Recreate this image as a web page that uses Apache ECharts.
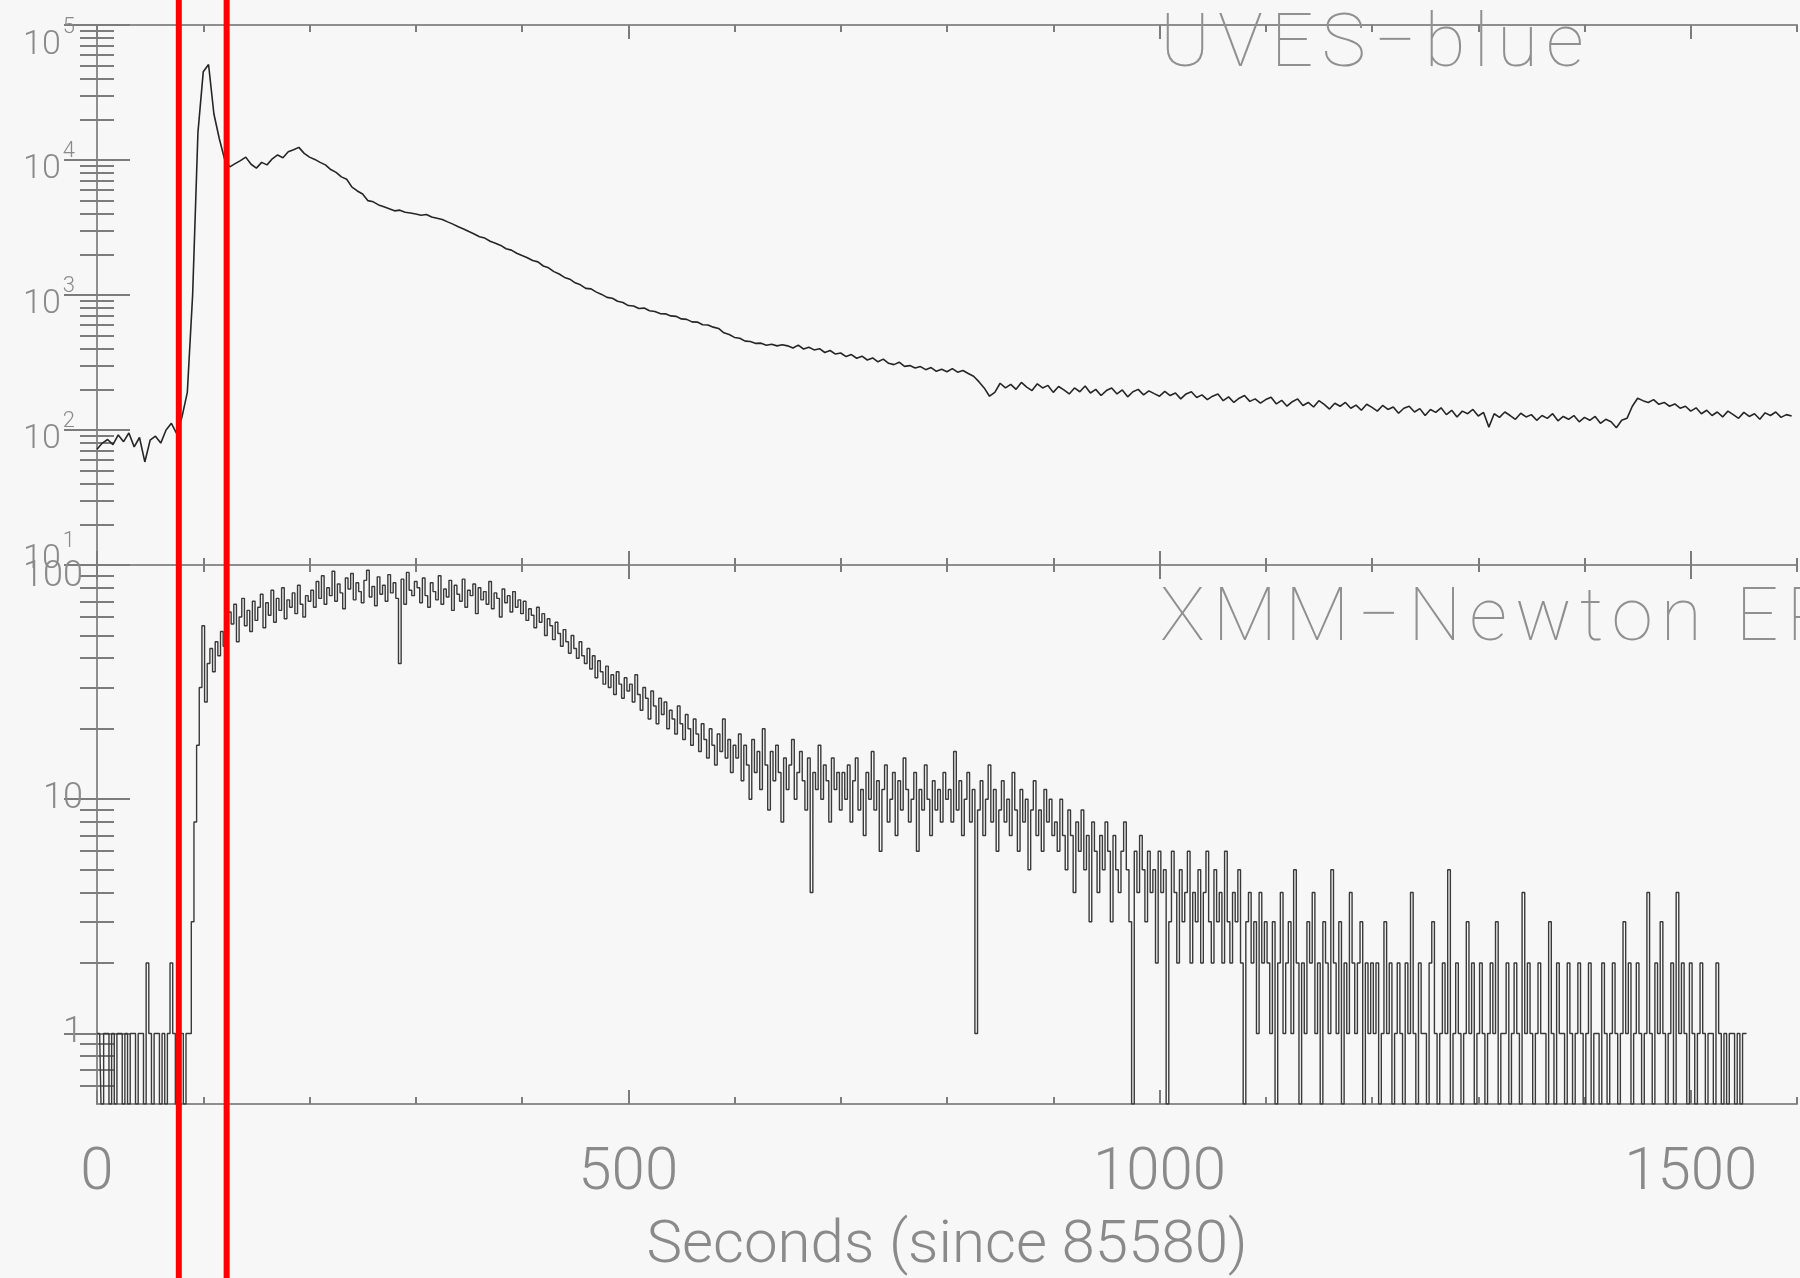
<!DOCTYPE html>
<html>
<head>
<meta charset="utf-8">
<script src="https://cdn.jsdelivr.net/npm/echarts/dist/echarts.min.js"></script>
<style>
  html, body { margin: 0; padding: 0; background: #f7f7f7; }
  #chart { width: 1800px; height: 1278px; }
</style>
</head>
<body>
<div id="chart"></div>
<script>
// ---- Light curves of the flare (time in seconds since 85580) ----

// UVES-blue count rate, 5 s bins starting at t = 0
const uvesBinSec = 5;
const uvesCounts = [
  72, 80, 85, 78, 92, 82, 95, 75, 88, 58,
  84, 90, 80, 100, 112, 94, 125, 190, 1000, 16000,
  45000, 51000, 22000, 14500, 10200,
  8900, 9400, 9900, 10500, 9300, 8700, 9600, 9200, 10200, 10900,
  10400, 11500, 11900, 12400, 11200, 10500, 10100, 9600, 9200, 8500,
  8100, 7500, 7200, 6300, 5900, 5600, 5000, 4900, 4650, 4500,
  4350, 4200, 4250, 4100, 4050, 3980, 3900, 3950, 3780, 3700,
  3620, 3480, 3350, 3200, 3080, 2950, 2830, 2700, 2640, 2500,
  2420, 2330, 2200, 2150, 2040, 1960, 1890, 1800, 1760, 1640,
  1590, 1490, 1430, 1350, 1310, 1230, 1190, 1120, 1110, 1050,
  1010, 960, 945, 900, 880, 835, 828, 795, 800, 765,
  755, 728, 725, 700, 695, 665, 660, 632, 630, 602,
  600, 578, 565, 525, 510, 485, 478, 455, 452, 438,
  440, 425, 432, 420, 428,
  420, 405, 425, 398, 410, 392, 400, 375, 388, 365,
  372, 350, 362, 340, 352, 330, 342, 320, 335, 312,
  305, 318, 296, 300, 288, 295, 280, 290, 272, 282,
  270, 285, 268, 276, 262, 250, 228, 205, 178, 190,
  222, 205, 218, 200, 225, 208, 196, 220, 205, 214,
  190, 210, 198, 185, 205, 192, 212, 188, 200, 180,
  196, 205, 185, 198, 176, 192, 200, 182, 195, 186,
  178, 193, 180, 188, 170, 185, 192, 174, 182, 168,
  178, 185, 165, 176, 160, 172, 180, 163, 170, 158,
  168, 175, 156, 166, 150, 162, 170, 152, 160, 148,
  165, 155, 143, 158, 150, 160, 145, 153, 140, 155,
  147, 138, 152, 142, 148, 133, 145, 150, 136, 144,
  128, 142, 135, 146, 130, 140, 125, 138, 132, 142,
  127, 135, 105, 132, 124, 136, 128, 120, 133, 125,
  130, 118, 128, 122, 132, 117, 126, 120, 128, 115,
  124, 118, 126, 112, 120, 115, 104, 118, 122, 150,
  172, 165, 160, 168, 155, 160, 150, 156, 145, 150,
  138, 146, 132, 140, 128, 136, 125, 138, 130, 122,
  135, 126, 132, 120, 134, 128, 136, 124, 130, 127
];

// XMM-Newton EPIC counts, 2.5 s bins starting at t = 0 (empty bins are 0)
const epicBinSec = 2.5;
const epicCounts = [
  // quiescence, 0 - 87.5 s
  1, 1, 0, 1, 1, 0, 1, 0, 1, 1,
  0, 1, 0, 1, 1, 0, 1, 1, 0, 2,
  1, 0, 1, 1, 0, 1, 0, 1, 2, 1,
  0, 1, 1, 0, 1, 1,
  // flare onset, 90 - 120 s
  3, 8, 17, 30, 55, 26, 38, 44, 35, 47,
  41, 52, 45,
  // 122.5 - 200 s
  50, 63, 56, 68, 47, 60, 72, 55, 64, 52,
  70, 58, 66, 75, 54, 69, 61, 78, 57, 72,
  64, 80, 59, 71, 66, 76, 62, 82, 68, 60,
  74, 70,
  // 202.5 - 300 s
  78, 66, 85, 72, 90, 68, 80, 74, 94, 70,
  83, 76, 65, 88, 79, 92, 71, 84, 77, 69,
  86, 95, 73, 81, 67, 89, 75, 82, 70, 91,
  76, 84, 72, 38, 87, 68, 93, 78, 74, 85,
  // 302.5 - 400 s
  80, 69, 88, 74, 66, 84, 77, 71, 90, 68,
  79, 73, 86, 64, 82, 75, 70, 87, 66, 78,
  74, 83, 62, 80, 71, 77, 68, 85, 65, 76,
  72, 60, 79, 69, 74, 63, 77, 66, 71, 62,
  // 402.5 - 500 s
  70, 58, 65, 61, 54, 66, 57, 62, 50, 59,
  55, 48, 57, 51, 45, 53, 47, 42, 50, 44,
  40, 47, 41, 38, 44, 36, 41, 33, 39, 35,
  31, 37, 30, 34, 28, 35, 31, 27, 33, 29,
  // 502.5 - 600 s
  31, 26, 34, 28, 24, 30, 27, 22, 29, 25,
  21, 27, 23, 26, 20, 24, 22, 19, 25, 21,
  18, 23, 20, 17, 22, 19, 16, 21, 18, 15,
  20, 17, 14, 19, 16, 22, 15, 18, 13, 17,
  // 602.5 - 700 s
  15, 19, 12, 17, 14, 10, 18, 13, 16, 11,
  20, 14, 9, 16, 12, 17, 13, 8, 15, 11,
  14, 18, 10, 13, 16, 12, 9, 15, 4, 13,
  11, 17, 10, 14, 12, 8, 15, 11, 13, 9,
  // 702.5 - 800 s
  13, 10, 14, 8, 12, 15, 9, 11, 7, 13,
  10, 16, 9, 12, 6, 11, 14, 8, 10, 13,
  7, 12, 9, 15, 11, 8, 10, 13, 6, 11,
  9, 14, 10, 7, 12, 9, 11, 8, 13, 10,
  // 802.5 - 900 s
  11, 8, 16, 9, 12, 7, 10, 13, 8, 11,
  1, 9, 12, 7, 10, 14, 8, 11, 6, 9,
  12, 8, 10, 7, 13, 9, 6, 11, 8, 10,
  5, 9, 12, 7, 9, 6, 11, 8, 10, 7,
  // 902.5 - 1000 s
  8, 6, 10, 7, 5, 9, 7, 4, 8, 6,
  9, 5, 7, 3, 8, 6, 4, 7, 5, 8,
  6, 3, 7, 5, 4, 6, 8, 5, 3, 0,
  6, 4, 7, 5, 3, 6, 4, 5, 2, 6,
  // 1002.5 - 1100 s
  4, 5, 0, 3, 6, 4, 2, 5, 3, 4,
  6, 2, 4, 3, 5, 2, 4, 6, 3, 2,
  5, 3, 4, 2, 6, 3, 2, 4, 3, 5,
  2, 0, 3, 4, 2, 3, 1, 4, 2, 3,
  // 1102.5 - 1200 s
  2, 1, 3, 0, 2, 4, 1, 2, 3, 1,
  5, 2, 0, 2, 1, 3, 2, 4, 1, 2,
  0, 3, 2, 1, 5, 2, 1, 3, 0, 2,
  1, 4, 2, 1, 2, 3, 0, 2, 1, 2,
  // 1202.5 - 1300 s
  1, 2, 0, 1, 3, 1, 2, 0, 1, 2,
  1, 0, 2, 1, 4, 1, 0, 2, 1, 1,
  0, 2, 3, 1, 0, 1, 2, 1, 5, 0,
  1, 2, 1, 0, 1, 3, 1, 2, 0, 1,
  // 1302.5 - 1400 s
  2, 1, 0, 1, 2, 1, 3, 0, 1, 1,
  2, 0, 1, 2, 1, 0, 4, 1, 2, 1,
  0, 1, 2, 1, 1, 0, 3, 1, 0, 2,
  1, 1, 0, 2, 1, 0, 1, 2, 1, 0,
  // 1402.5 - 1500 s
  1, 2, 0, 1, 1, 0, 2, 1, 0, 1,
  2, 1, 0, 1, 3, 1, 2, 0, 1, 2,
  1, 0, 1, 4, 1, 0, 2, 1, 3, 1,
  0, 1, 2, 0, 4, 1, 2, 1, 0, 2,
  // 1502.5 - 1552.5 s
  1, 0, 1, 2, 1, 0, 1, 1, 0, 2,
  1, 0, 1, 0, 1, 1, 0, 1, 0, 1,
  1
];

// Flare window boundaries (s)
const flareMarkSec = [77, 122];

// Axis ranges and tick values
const X_MIN = 0, X_MAX = 1600;
const xMajorTicks = [0, 500, 1000, 1500];
const xMinorTicks = [100, 200, 300, 400, 600, 700, 800, 900, 1100, 1200, 1300, 1400, 1600];
const UVES_MIN = 10, UVES_MAX = 100000;
const uvesDecades = [10, 100, 1000, 10000, 100000];
const EPIC_MIN = 0.5, EPIC_MAX = 100;
const epicDecades = [1, 10, 100];
const epicMinorBelowOne = [0.6, 0.7, 0.8, 0.9];

const panelTitles = ['UVES\u2212blue', 'XMM\u2212Newton EP'];
const xAxisTitle = 'Seconds (since 85580)';

// ---- helpers ----
function minorLogTicks(decades) {
  const out = [];
  decades.forEach(d => { for (let m = 2; m <= 9; m++) out.push(+(d * m).toPrecision(6)); });
  return out;
}
const uvesMinor = minorLogTicks(uvesDecades.slice(0, -1));
const epicMinor = epicMinorBelowOne.concat(minorLogTicks(epicDecades.slice(0, -1)));

const uvesData = uvesCounts.map((v, i) => [i * uvesBinSec, v]);
const epicData = epicCounts.map((v, i) => [i * epicBinSec, Math.max(v, EPIC_MIN)]);

const BG = '#f7f7f7';
const AXIS_GREY = '#8e8e8e';
const TICK_GREY = '#7c7c7c';
const TEXT_GREY = '#8a8a8a';
const FONT = 'Roboto';

const axisLine = { show: true, lineStyle: { color: AXIS_GREY, width: 2 } };
const noLine = { show: false };

function xAxisDef(grid, position, ticks, len, withLabels) {
  const ax = {
    type: 'value', gridIndex: grid, position: position,
    min: X_MIN, max: X_MAX,
    axisLine: len < 10 ? axisLine : noLine,
    axisTick: { show: true, inside: true, length: len, customValues: ticks,
                lineStyle: { color: TICK_GREY, width: 2 } },
    axisLabel: { show: false },
    splitLine: { show: false }
  };
  if (withLabels) {
    ax.axisLabel = {
      show: true, customValues: xMajorTicks, margin: 40,
      formatter: v => String(v),
      fontFamily: FONT, fontWeight: 300, fontSize: 60, color: TEXT_GREY
    };
    ax.name = xAxisTitle;
    ax.nameLocation = 'middle';
    ax.nameGap = 113;
    ax.nameTextStyle = { fontFamily: FONT, fontWeight: 300, fontSize: 60, color: TEXT_GREY };
  }
  return ax;
}

const xAxes = [];
[0, 1].forEach(g => {
  ['bottom', 'top'].forEach(pos => {
    xAxes.push(xAxisDef(g, pos, xMinorTicks, 7, false));
    xAxes.push(xAxisDef(g, pos, xMajorTicks, 14, g === 1 && pos === 'bottom'));
  });
});

const supRich = {
  b: { fontFamily: FONT, fontWeight: 300, fontSize: 34, lineHeight: 46, verticalAlign: 'bottom', color: TEXT_GREY },
  s: { fontFamily: FONT, fontWeight: 300, fontSize: 22, lineHeight: 22, verticalAlign: 'top', color: TEXT_GREY, padding: [0, 0, 0, 2] },
  g22: { lineHeight: 22, fontSize: 10 },
  g30: { lineHeight: 30, fontSize: 10 },
  n: { fontFamily: FONT, fontWeight: 300, fontSize: 36, lineHeight: 36, color: TEXT_GREY },
  g24: { lineHeight: 24, fontSize: 10 }
};

function uvesLabel(v) {
  const body = '{b|10}{s|' + Math.round(Math.log10(v)) + '}';
  if (v >= UVES_MAX) return '{g22| }\n' + body;
  if (v <= UVES_MIN) return body + '\n{g30| }';
  return body;
}
function epicLabel(v) {
  const body = '{n|' + v + '}';
  if (v >= EPIC_MAX) return '{g24| }\n' + body;
  return body;
}

function yAxisDef(grid, position, min, max, ticks, len, label) {
  return {
    type: 'log', logBase: 10, gridIndex: grid, position: position,
    min: min, max: max,
    axisLine: len > 20 ? axisLine : noLine,
    axisTick: { show: true, inside: true, length: len, customValues: ticks,
                lineStyle: { color: TICK_GREY, width: 2 } },
    axisLabel: label ? Object.assign({ show: true }, label) : { show: false },
    splitLine: { show: false }
  };
}

const uvesLabelCfg = { customValues: uvesDecades, formatter: uvesLabel, rich: supRich, margin: 22, padding: [6, 0, 0, 0] };
const epicLabelCfg = { customValues: epicDecades, formatter: epicLabel, rich: supRich, margin: 14 };

const yAxes = [
  yAxisDef(0, 'left', UVES_MIN, UVES_MAX, uvesDecades, 33, uvesLabelCfg),
  yAxisDef(0, 'left', UVES_MIN, UVES_MAX, uvesMinor, 17, null),
  yAxisDef(0, 'right', UVES_MIN, UVES_MAX, uvesDecades, 33, null),
  yAxisDef(0, 'right', UVES_MIN, UVES_MAX, uvesMinor, 17, null),
  yAxisDef(1, 'left', EPIC_MIN, EPIC_MAX, epicDecades, 33, epicLabelCfg),
  yAxisDef(1, 'left', EPIC_MIN, EPIC_MAX, epicMinor, 17, null),
  yAxisDef(1, 'right', EPIC_MIN, EPIC_MAX, epicDecades, 33, null),
  yAxisDef(1, 'right', EPIC_MIN, EPIC_MAX, epicMinor, 17, null)
];

const chart = echarts.init(document.getElementById('chart'), null, { renderer: 'canvas' });

const option = {
  animation: false,
  backgroundColor: BG,
  grid: [
    { left: 97, right: 3, top: 23, height: 542 },
    { left: 97, right: 3, top: 565, height: 543 }
  ],
  xAxis: xAxes,
  yAxis: yAxes,
  series: [
    {
      name: panelTitles[0], type: 'line', xAxisIndex: 0, yAxisIndex: 0,
      data: uvesData, showSymbol: false, sampling: 'none',
      lineStyle: { color: '#262626', width: 1.6 }, clip: true, z: 3
    },
    {
      name: panelTitles[1], type: 'line', xAxisIndex: 4, yAxisIndex: 4,
      data: epicData, step: 'middle', showSymbol: false, sampling: 'none',
      lineStyle: { color: '#3a3a3a', width: 1.4 }, clip: true, z: 3
    }
  ]
};
chart.setOption(option);

// Panel captions and flare-window markers (full image height)
function spaced(text) {
  return text.split('').map(c => '{c|' + (c === ' ' ? '\u00a0' : c) + '}').join('');
}
const captionRich = { c: { fontFamily: FONT, fontWeight: 100, fontSize: 75, fill: '#909090', padding: [0, 4, 0, 4] } };
const markX = flareMarkSec.map(s => chart.convertToPixel({ xAxisIndex: 0 }, s));

chart.setOption({
  graphic: [
    { id: 'cap0', type: 'text', x: 1156, y: 10, z: 10,
      style: { text: spaced(panelTitles[0]), rich: captionRich, fill: '#909090' } },
    { id: 'cap1', type: 'text', x: 1156, y: 584, z: 10,
      style: { text: spaced(panelTitles[1]), rich: captionRich, fill: '#909090' } }
  ].concat(markX.map((px, i) => ({
    id: 'mark' + i, type: 'line', z: 20,
    shape: { x1: px, y1: 0, x2: px, y2: 1278 },
    style: { stroke: '#ff0000', lineWidth: 6 }
  })))
});
</script>
</body>
</html>
